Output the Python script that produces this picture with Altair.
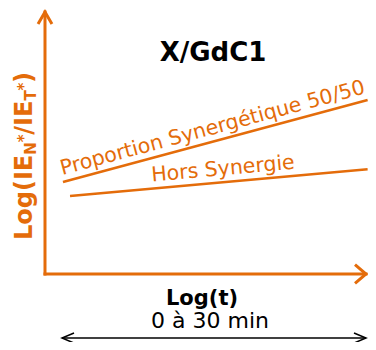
import math
import altair as alt
import pandas as pd

ORANGE = "#E46C0A"
BLACK = "#000000"
FONT = "DejaVu Sans"

# ---- texts -------------------------------------------------------------
title_text = "X/GdC1"
x_title_text = "Log(t)"
range_text = "0 à 30 min"
y_title_parts = ["Log(IE", "N", "*", "/IE", "T", "*", ")"]
y_title_is_sub = [False, True, True, False, True, True, False]
y_title_is_star = [False, False, True, False, False, True, False]

# ---- data (schematic units: axes run from 0 to 10) ---------------------
series = ["Proportion Synergétique 50/50", "Hors Synergie"]
prop_x = [0.56, 10.05]
prop_y = [3.51, 6.64]
hors_x = [0.78, 10.05]
hors_y = [2.98, 4.00]
axis_max = 10.0
range_x = [0.53, 10.0]   # "0 à 30 min" span under the x axis
range_y = -2.443
label_frac = [0.502, 0.518]

# ---- layout -----------------------------------------------------------
W, H = 360, 334
X_DOMAIN = [-1.1526, 10.0623]
Y_DOMAIN = [-2.595, 10.153]
PX_X = W / (X_DOMAIN[1] - X_DOMAIN[0])
PX_Y = H / (Y_DOMAIN[1] - Y_DOMAIN[0])

xs = alt.Scale(domain=X_DOMAIN, nice=False, zero=False)
ys = alt.Scale(domain=Y_DOMAIN, nice=False, zero=False)


def X(f="x"):
    return alt.X(f"{f}:Q", scale=xs, axis=None)


def Y(f="y"):
    return alt.Y(f"{f}:Q", scale=ys, axis=None)


layers = []

# axes
axes_df = pd.DataFrame({"x": [0.0], "x2": [axis_max], "y": [0.0], "y2": [axis_max]})
layers.append(alt.Chart(axes_df).mark_rule(color=ORANGE, strokeWidth=3, strokeCap="square").encode(
    x=X(), y=Y(), y2="y2:Q"))
layers.append(alt.Chart(axes_df).mark_rule(color=ORANGE, strokeWidth=3, strokeCap="square").encode(
    x=X(), x2="x2:Q", y=Y()))

# arrow heads on axes
up_df = pd.DataFrame({"x": [0.0], "y": [axis_max]})
right_df = pd.DataFrame({"x": [axis_max], "y": [0.0]})
layers.append(alt.Chart(up_df).mark_point(
    shape="M -0.58 1 L 0 0 L 0.58 1", size=576, filled=False, stroke=ORANGE,
    strokeWidth=3, opacity=1, strokeJoin="miter").encode(x=X(), y=Y()))
layers.append(alt.Chart(right_df).mark_point(
    shape="M -1 -0.85 L 0 0 L -1 0.85", size=484, filled=False, stroke=ORANGE,
    strokeWidth=3, opacity=1, strokeJoin="miter").encode(x=X(), y=Y()))

# series lines
lines_df = pd.DataFrame({
    "x": prop_x + hors_x,
    "y": prop_y + hors_y,
    "series": [series[0]] * len(prop_x) + [series[1]] * len(hors_x),
})
layers.append(alt.Chart(lines_df).mark_line(color=ORANGE, strokeWidth=2.5).encode(
    x=X(), y=Y(), detail="series:N"))

# line labels
for name, xv, yv, f in zip(series, [prop_x, hors_x], [prop_y, hors_y], label_frac):
    lx = xv[0] + f * (xv[-1] - xv[0])
    ly = yv[0] + f * (yv[-1] - yv[0])
    ang = math.degrees(math.atan2((yv[-1] - yv[0]) * PX_Y, (xv[-1] - xv[0]) * PX_X))
    ldf = pd.DataFrame({"x": [lx], "y": [ly], "t": [name]})
    layers.append(alt.Chart(ldf).mark_text(
        font=FONT, fontSize=20.5, color=ORANGE, angle=360 - ang, align="center",
        baseline="alphabetic", dy=-7).encode(x=X(), y=Y(), text="t:N"))

# bottom double arrow
rng_df = pd.DataFrame({"x": [range_x[0]], "x2": [range_x[1]], "y": [range_y]})
layers.append(alt.Chart(rng_df).mark_rule(color=BLACK, strokeWidth=1.5).encode(
    x=X(), x2="x2:Q", y=Y()))
layers.append(alt.Chart(pd.DataFrame({"x": [range_x[0]], "y": [range_y]})).mark_point(
    shape="M 1 -0.42 L 0 0 L 1 0.42", size=576, filled=False, stroke=BLACK,
    strokeWidth=1.5, opacity=1).encode(x=X(), y=Y()))
layers.append(alt.Chart(pd.DataFrame({"x": [range_x[1]], "y": [range_y]})).mark_point(
    shape="M -1 -0.42 L 0 0 L -1 0.42", size=576, filled=False, stroke=BLACK,
    strokeWidth=1.5, opacity=1).encode(x=X(), y=Y()))

one = alt.Data(values=[{"k": 0}])

# title / x title / range text
layers.append(alt.Chart(one).mark_text(
    text=title_text, font=FONT, fontSize=26, fontWeight="bold", color=BLACK,
    align="center", baseline="alphabetic").encode(x=alt.value(205), y=alt.value(53)))
layers.append(alt.Chart(one).mark_text(
    text=x_title_text, font=FONT, fontSize=21, fontWeight="bold", color=BLACK,
    align="center", baseline="alphabetic").encode(x=alt.value(194), y=alt.value(297)))
layers.append(alt.Chart(one).mark_text(
    text=range_text, font=FONT, fontSize=22, color=BLACK,
    align="center", baseline="alphabetic").encode(x=alt.value(202), y=alt.value(320)))

# rotated y title with subscripts
EM = {"L": .637, "o": .687, "g": .716, "(": .457, ")": .457, "I": .372, "E": .683,
      "N": .837, "T": .682, "*": .500, "/": .365}
MAIN, SUB = 24, 15
ypos = 232.0
for part, is_sub, is_star in zip(y_title_parts, y_title_is_sub, y_title_is_star):
    size = SUB if is_sub else MAIN
    bx = 24.0
    if is_sub:
        bx = 21.0 if is_star else 28.0
    layers.append(alt.Chart(one).mark_text(
        text=part, font=FONT, fontSize=size, fontWeight="bold", color=ORANGE,
        angle=270, align="left", baseline="alphabetic").encode(
        x=alt.value(bx), y=alt.value(ypos)))
    ypos -= sum(EM.get(c, 0.6) for c in part) * size

chart = alt.layer(*layers).properties(
    width=W, height=H, autosize=alt.AutoSizeParams(type="none"), padding=0,
    background="white",
).configure_view(stroke=None)

chart.save("out.html", embed_options={"renderer": "svg", "actions": False})
